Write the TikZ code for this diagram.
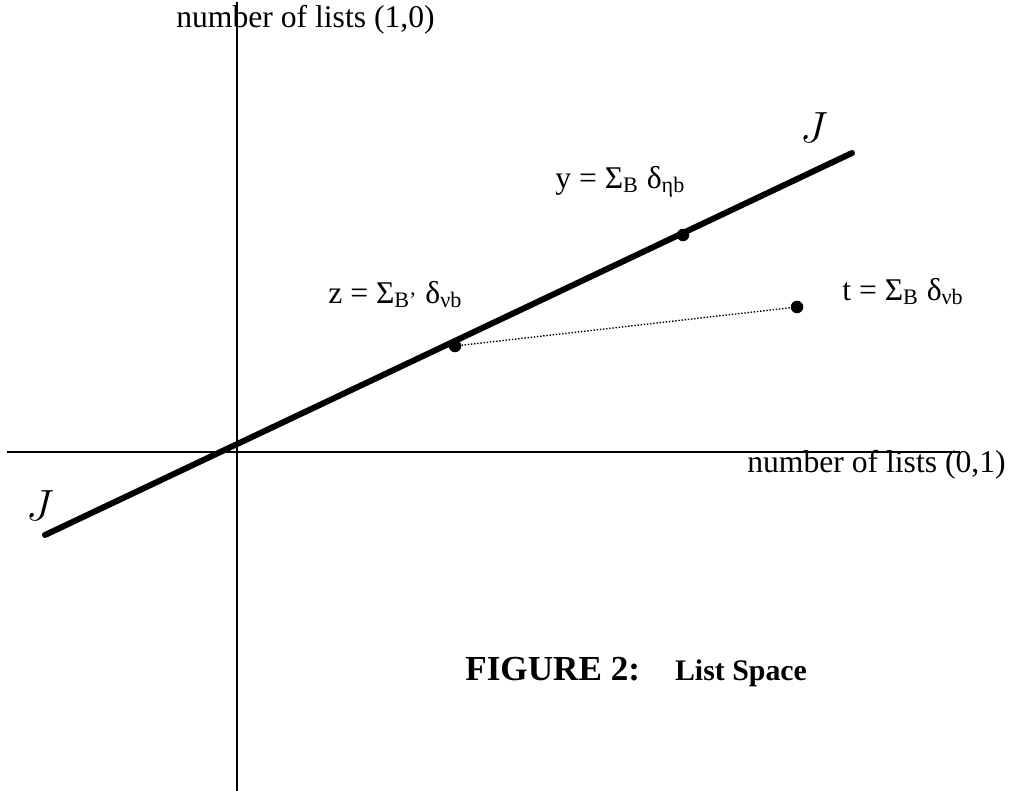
\documentclass[tikz,border=0pt]{standalone}
\usepackage{fontspec}
\setmainfont{Liberation Serif}
\usetikzlibrary{positioning}
\begin{document}
\begin{tikzpicture}[x=0.02cm,y=-0.02cm,
  lbl/.style={inner sep=0pt,anchor=base west,font=\fontsize{18}{20}\selectfont},
  spot/.style={circle,fill=black,inner sep=0pt,minimum size=0.25cm},
  jlbl/.style={inner sep=0pt,font=\fontsize{30}{32}\selectfont}]
\useasboundingbox (0,0) rectangle (1011,791);
% the axes
\coordinate (vtop) at (237,2);
\coordinate (vbot) at (237,791);
\coordinate (hleft) at (7,452);
\coordinate (hright) at (960,452);
\draw[line width=1pt] (vtop) -- (vbot);
\draw[line width=1pt] (hleft) -- (hright);
\node[lbl] (ytitle) at (176,28) {number of lists (1,0)};
\node[lbl] (xtitle) at (747,472) {number of lists (0,1)};
% the line J
\coordinate (jlo) at (45,535);
\coordinate (jhi) at (852,153);
\draw[line width=3.4pt,line cap=round] (jlo) -- (jhi);
\node[jlbl] (jleft) at (40,506) {$J$};
\node[jlbl] (jright) at (814,128) {$J$};
% the points
\node[spot] (y) at (683,235) {};
\node[spot] (z) at (455,346) {};
\node[spot] (t) at (797,307) {};
\draw[densely dotted,line width=0.8pt] (z) -- (t);
\node[lbl] (ylbl) at (555,188) {y = Σ\textsubscript{B} δ\textsubscript{ηb}};
\node[lbl] (zlbl) at (328,303) {z = Σ\textsubscript{B'} δ\textsubscript{νb}};
\node[lbl] (tlbl) at (842,300) {t = Σ\textsubscript{B} δ\textsubscript{νb}};
% caption
\node[inner sep=0pt,anchor=base west] (caption) at (465,680)
  {\bfseries{\fontsize{20}{22}\selectfont FIGURE 2:}\hspace{0.7cm}{\fontsize{17}{19}\selectfont List Space}};
\end{tikzpicture}
\end{document}
